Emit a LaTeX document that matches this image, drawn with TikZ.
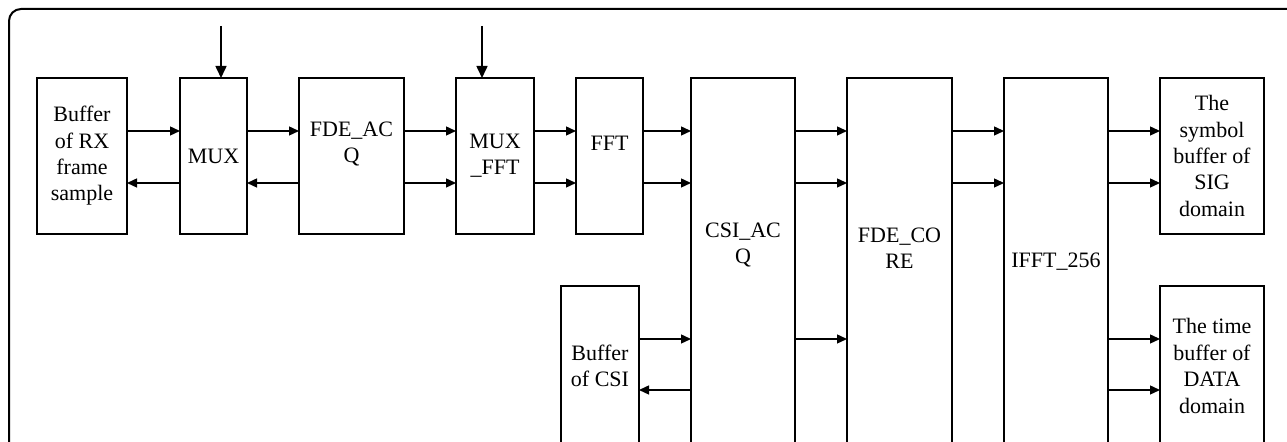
\documentclass[tikz,border=0pt]{standalone}
\usepackage{fontspec}
\setmainfont{Liberation Serif}
\usetikzlibrary{arrows.meta,positioning}

\begin{document}
\begin{tikzpicture}[x=0.5pt,y=-0.5pt,>={Triangle[length=5pt,width=4.5pt]},
  every node/.style={font=\fontsize{11}{13.2}\selectfont,align=center},
  block/.style={draw,line width=0.8pt,inner sep=0pt,outer sep=0pt,minimum height=78pt},
  tall/.style={block,minimum height=184pt},
  link/.style={->,line width=0.7pt},
  feed/.style={-{Triangle[length=6pt,width=5.5pt]},line width=0.8pt}]

\useasboundingbox (0,0) rectangle (1287,442);
\clip (0,0) rectangle (1287,442);

% Marco exterior
\draw[line width=1pt,rounded corners=6pt] (9,9) rectangle (1320,480);

% Filas de las flechas
\coordinate (r1) at (0,131);
\coordinate (r2) at (0,183);
\coordinate (r3) at (0,339);
\coordinate (r4) at (0,390);

% Bloques de la fila superior
\node[block, minimum width=45pt, anchor=north west] (rx) at (37,78) {Buffer\\of RX\\frame\\sample};
\node[block, minimum width=33.5pt, right=26.5pt of rx.north east, anchor=north west] (mux) {MUX};
\node[block, minimum width=52.5pt, right=26pt of mux.north east, anchor=north west,
  label={[yshift=6pt]center:FDE\_AC\\Q}] (fdeacq) {};
\node[block, minimum width=39pt, right=26pt of fdeacq.north east, anchor=north west] (muxfft) {MUX\\\_FFT};
\node[block, minimum width=33.5pt, right=21pt of muxfft.north east, anchor=north west,
  label={[yshift=6.5pt]center:FFT}] (fft) {};
\node[tall, minimum width=52pt, right=24pt of fft.north east, anchor=north west,
  label={[yshift=8.5pt]center:CSI\_AC\\Q}] (csiacq) {};
\node[tall, minimum width=52.5pt, right=26pt of csiacq.north east, anchor=north west,
  label={[yshift=7pt]center:FDE\_CO\\RE}] (fdecore) {};
\node[tall, minimum width=52pt, right=26pt of fdecore.north east, anchor=north west] (ifft) {IFFT\_256};
\node[block, minimum width=52pt, right=26pt of ifft.north east, anchor=north west] (sig) {The\\symbol\\buffer of\\SIG\\domain};

% Bloques de la fila inferior
\node[block, minimum width=52pt, minimum height=80pt, below=26pt of sig.south west, anchor=north west] (data) {The time\\buffer of\\DATA\\domain};
\node[block, minimum width=39pt, minimum height=80pt, anchor=north west] (bufcsi) at (561,286) {Buffer\\of CSI};

% Entradas superiores
\coordinate (in1) at (221,26);
\coordinate (in2) at (482,26);
\draw[feed] (in1) -- (in1 |- mux.north);
\draw[feed] (in2) -- (in2 |- muxfft.north);

% Flechas fila 1
\draw[link] (rx.east |- r1) -- (mux.west |- r1);
\draw[link] (mux.east |- r1) -- (fdeacq.west |- r1);
\draw[link] (fdeacq.east |- r1) -- (muxfft.west |- r1);
\draw[link] (muxfft.east |- r1) -- (fft.west |- r1);
\draw[link] (fft.east |- r1) -- (csiacq.west |- r1);
\draw[link] (csiacq.east |- r1) -- (fdecore.west |- r1);
\draw[link] (fdecore.east |- r1) -- (ifft.west |- r1);
\draw[link] (ifft.east |- r1) -- (sig.west |- r1);

% Flechas fila 2
\draw[link] (mux.west |- r2) -- (rx.east |- r2);
\draw[link] (fdeacq.west |- r2) -- (mux.east |- r2);
\draw[link] (fdeacq.east |- r2) -- (muxfft.west |- r2);
\draw[link] (muxfft.east |- r2) -- (fft.west |- r2);
\draw[link] (fft.east |- r2) -- (csiacq.west |- r2);
\draw[link] (csiacq.east |- r2) -- (fdecore.west |- r2);
\draw[link] (fdecore.east |- r2) -- (ifft.west |- r2);
\draw[link] (ifft.east |- r2) -- (sig.west |- r2);

% Flechas filas 3 y 4
\draw[link] (bufcsi.east |- r3) -- (csiacq.west |- r3);
\draw[link] (csiacq.east |- r3) -- (fdecore.west |- r3);
\draw[link] (ifft.east |- r3) -- (data.west |- r3);
\draw[link] (csiacq.west |- r4) -- (bufcsi.east |- r4);
\draw[link] (ifft.east |- r4) -- (data.west |- r4);

\end{tikzpicture}
\end{document}
